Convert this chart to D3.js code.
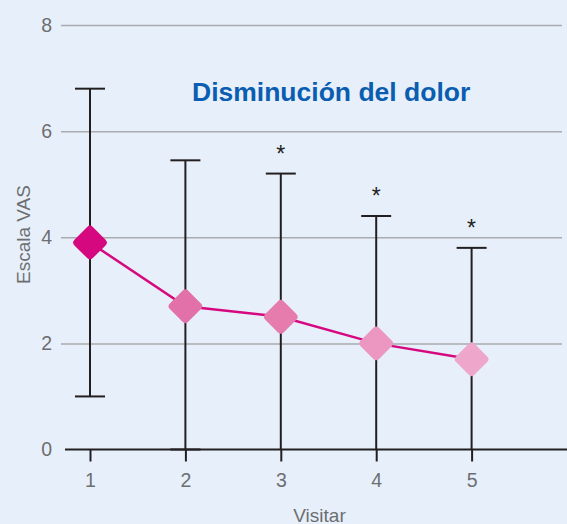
<!DOCTYPE html>
<html>
<head>
<meta charset="utf-8">
<script src="https://cdn.jsdelivr.net/npm/d3@7"></script>
<style>
  html, body { margin: 0; padding: 0; background: #e7f0fa; }
  svg { display: block; }
</style>
</head>
<body>
<div id="chart"></div>
<script>
// data
const visits = [1, 2, 3, 4, 5];
const means = [3.9, 2.7, 2.5, 2.0, 1.7];
const upper = [6.8, 5.45, 5.2, 4.4, 3.8];
const lower = [1.0, 0, 0, 0, 0];
const significant = [false, false, true, true, true];
const markerColors = ["#d6087f", "#e171a8", "#e67cae", "#eb97c1", "#eea6ca"];
const yTicks = [0, 2, 4, 6, 8];

const width = 567;
const height = 524;

const svg = d3.select("#chart")
  .append("svg")
  .attr("width", width)
  .attr("height", height);

svg.append("rect")
  .attr("width", width)
  .attr("height", height)
  .attr("fill", "#e7f0fa");

const x = d3.scaleLinear()
  .domain([1, 5])
  .range([90, 471.6]);

const y = d3.scaleLinear()
  .domain([0, 8])
  .range([449.5, 25]);

const font = "'Liberation Sans', Arial, sans-serif";
const grey = "#6d6e71";

// gridlines + y labels
const yAxis = d3.axisLeft(y)
  .tickValues(yTicks)
  .tickSize(-(562 - 61))
  .tickPadding(9)
  .tickFormat(d3.format("d"));

svg.append("g")
  .attr("transform", "translate(61,0)")
  .call(yAxis)
  .call(g => g.select(".domain").remove())
  .call(g => g.selectAll(".tick line")
    .attr("stroke", "#a9abae")
    .attr("stroke-width", 1.5)
    .attr("display", d => d === 0 ? "none" : null))
  .call(g => g.selectAll(".tick text")
    .attr("fill", grey)
    .style("font", "19.5px " + font));

// x axis
const xAxis = d3.axisBottom(x)
  .tickValues(visits)
  .tickSize(12)
  .tickPadding(11.5)
  .tickSizeOuter(0)
  .tickFormat(d3.format("d"));

svg.append("g")
  .attr("transform", "translate(0," + y(0) + ")")
  .call(xAxis)
  .call(g => g.select(".domain").remove())
  .call(g => g.selectAll(".tick line")
    .attr("stroke", "#231f20")
    .attr("stroke-width", 2))
  .call(g => g.selectAll(".tick text")
    .attr("fill", grey)
    .style("font", "19.5px " + font));

svg.append("line")
  .attr("x1", 65)
  .attr("x2", width)
  .attr("y1", y(0))
  .attr("y2", y(0))
  .attr("stroke", "#231f20")
  .attr("stroke-width", 2);

// error bars
const capHalf = 15;
const bars = svg.append("g")
  .attr("stroke", "#231f20")
  .attr("stroke-width", 2);

visits.forEach((v, i) => {
  bars.append("line")
    .attr("x1", x(v)).attr("x2", x(v))
    .attr("y1", y(upper[i])).attr("y2", y(lower[i]));
  bars.append("line")
    .attr("x1", x(v) - capHalf).attr("x2", x(v) + capHalf)
    .attr("y1", y(upper[i])).attr("y2", y(upper[i]));
  if (i < 2) {
    bars.append("line")
      .attr("x1", x(v) - capHalf).attr("x2", x(v) + capHalf)
      .attr("y1", y(lower[i])).attr("y2", y(lower[i]));
  }
  if (significant[i]) {
    svg.append("text")
      .attr("x", x(v))
      .attr("y", y(upper[i]) - 12)
      .attr("text-anchor", "middle")
      .attr("fill", "#231f20")
      .style("font", "23px " + font)
      .text("*");
  }
});

// mean line
const line = d3.line()
  .x((d, i) => x(visits[i]))
  .y(d => y(d));

svg.append("path")
  .attr("d", line(means))
  .attr("fill", "none")
  .attr("stroke", "#d6087f")
  .attr("stroke-width", 2.5);

// diamond markers (rounded squares rotated)
const side = 26;
svg.append("g")
  .selectAll("rect")
  .data(means)
  .enter()
  .append("rect")
    .attr("x", -side / 2)
    .attr("y", -side / 2)
    .attr("width", side)
    .attr("height", side)
    .attr("rx", 4)
    .attr("fill", (d, i) => markerColors[i])
    .attr("transform", (d, i) => "translate(" + x(visits[i]) + "," + y(d) + ") rotate(45)");

// titles
svg.append("text")
  .attr("x", 192)
  .attr("y", 101)
  .attr("fill", "#0a5db0")
  .style("font", "bold 26.5px " + font)
  .text("Disminución del dolor");

svg.append("text")
  .attr("transform", "translate(30,234.5) rotate(-90)")
  .attr("text-anchor", "middle")
  .attr("fill", grey)
  .style("font", "19px " + font)
  .text("Escala VAS");

svg.append("text")
  .attr("x", 319.5)
  .attr("y", 521.5)
  .attr("text-anchor", "middle")
  .attr("fill", grey)
  .style("font", "19px " + font)
  .text("Visitar");
</script>
</body>
</html>
